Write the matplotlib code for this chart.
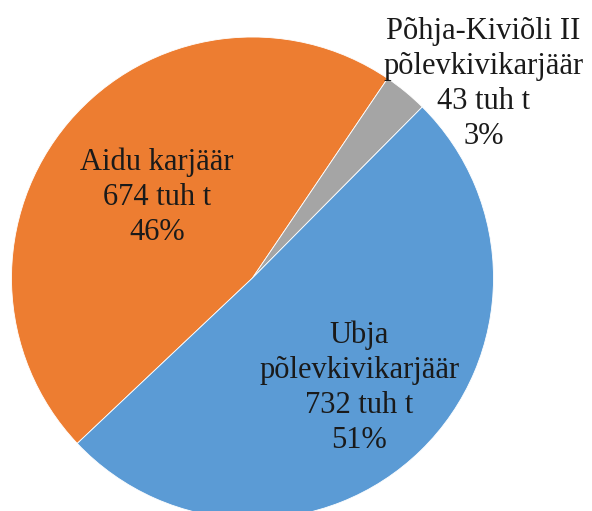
import numpy as np
import matplotlib
matplotlib.use("Agg")
import matplotlib.pyplot as plt

categories = ["Aidu karjäär", "Põhja-Kiviõli II\npõlevkivikarjäär", "Ubja\npõlevkivikarjäär"]
values = [674, 43, 732]          # tuh t
percents = ["46%", "3%", "51%"]
colors = ["#ED7D31", "#A5A5A5", "#5B9BD5"]

W, H = 592, 511
cx, cy, R = 252.5, 278.0, 241.0   # pie centre / radius in pixels (from top)

fig = plt.figure(figsize=(W / 100, H / 100), dpi=100)
ax = fig.add_axes([0, 0, 1, 1])

total = sum(values)
gray_start_cw = 34.1  # clockwise from 12 o'clock where the gray slice begins
start_angle = 90 - gray_start_cw + 360 * values[0] / total

wedges, _ = ax.pie(values, colors=colors, startangle=start_angle, counterclock=False,
                   radius=1.0, center=(0, 0),
                   wedgeprops=dict(edgecolor="white", linewidth=0.6))

ax.set_xlim(-cx / R, (W - cx) / R)
ax.set_ylim(-(H - cy) / R, cy / R)
ax.set_aspect("auto")
ax.axis("off")

label_r = [0.52, 1.25, 0.635]
label_ang_override = [None, 40.0, None]
font = dict(family="Liberation Serif", fontsize=22, color="#1a1a1a",
            ha="center", va="center", linespacing=1.27)
for w, cat, v, p, r, ov in zip(wedges, categories, values, percents, label_r, label_ang_override):
    ang = ov if ov is not None else (w.theta1 + w.theta2) / 2
    x = r * np.cos(np.deg2rad(ang))
    y = r * np.sin(np.deg2rad(ang))
    ax.text(x, y, f"{cat}\n{v} tuh t\n{p}", **font)

fig.savefig("out.png", dpi=100)
